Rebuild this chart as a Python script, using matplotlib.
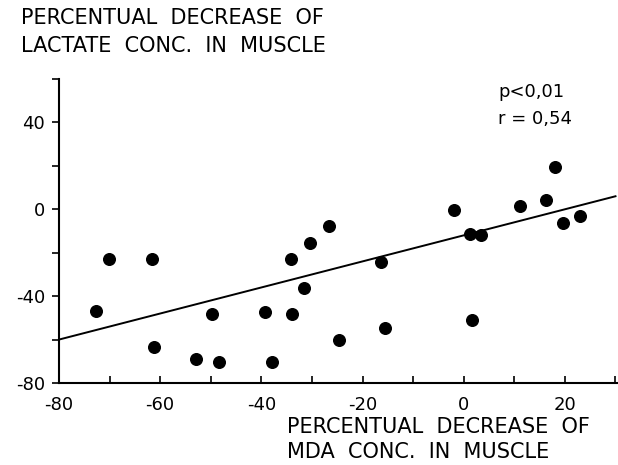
import numpy as np
import matplotlib
matplotlib.use("Agg")
import matplotlib.pyplot as plt

# ------------------------------------------------------------
# data
# ------------------------------------------------------------
mda_decrease = [-72.6, -70.1, -61.7, -61.3, -52.9, -49.7, -48.3, -39.2, -37.9,
                -34.2, -34.0, -31.5, -30.3, -26.6, -24.6, -16.4, -15.5, -1.9,
                1.3, 3.5, 1.7, 11.1, 16.3, 18.0, 19.7, 23.0]
lactate_decrease = [-46.9, -22.7, -22.7, -63.2, -68.8, -48.1, -70.4, -47.3, -70.2,
                    -22.7, -48.3, -36.4, -15.4, -7.5, -60.0, -24.4, -54.8, -0.3,
                    -11.5, -12.0, -50.8, 1.7, 4.5, 19.3, -6.4, -3.3]

fit_intercept = -12.0
fit_slope = 0.6
fit_range = [-80, 30]

x_ticks = list(range(-80, 31, 10))
x_labels = ["-80", "", "-60", "", "-40", "", "-20", "", "0", "", "20", ""]
y_ticks = list(range(-80, 61, 20))
y_labels = ["-80", "", "-40", "", "0", "", "40", ""]

stats_text = ["p<0,01", "r = 0,54"]
y_title = ["PERCENTUAL  DECREASE  OF", "LACTATE  CONC.  IN  MUSCLE"]
x_title = ["PERCENTUAL  DECREASE  OF", "MDA  CONC.  IN  MUSCLE"]

W, H = 618, 465
plt.rcParams["font.family"] = ["DejaVu Sans"]
plt.rcParams["axes.unicode_minus"] = False


def fx(px):
    return px / W


def fy(py):
    return 1 - py / H


fig = plt.figure(figsize=(W / 100, H / 100), dpi=100)
ax = fig.add_axes([fx(59), fy(383), fx(617) - fx(59), fy(79) - fy(383)])

ax.scatter(mda_decrease, lactate_decrease, s=70, color="black", zorder=3)

xs = np.array(fit_range, dtype=float)
ax.plot(xs, fit_intercept + fit_slope * xs, color="black", lw=1.4)

ax.set_xlim(-80, 30.3)
ax.set_ylim(-80, 60)
for side in ("top", "right"):
    ax.spines[side].set_visible(False)
for side in ("left", "bottom"):
    ax.spines[side].set_linewidth(1.5)

ax.set_xticks(x_ticks)
ax.set_xticklabels(x_labels)
ax.set_yticks(y_ticks)
ax.set_yticklabels(y_labels)
ax.tick_params(axis="x", direction="in", length=5, width=1.2, pad=9, labelsize=13)
ax.tick_params(axis="y", direction="out", length=5, width=1.2, pad=5, labelsize=13)

# titles placed as in the scan
fig.text(fx(21), fy(24), y_title[0], fontsize=15, va="baseline", ha="left")
fig.text(fx(21), fy(52), y_title[1], fontsize=15, va="baseline", ha="left")
fig.text(fx(287), fy(433), x_title[0], fontsize=15, va="baseline", ha="left")
fig.text(fx(287), fy(458), x_title[1], fontsize=15, va="baseline", ha="left")

fig.text(fx(498), fy(97), stats_text[0], fontsize=13, va="baseline", ha="left")
fig.text(fx(498), fy(124), stats_text[1], fontsize=13, va="baseline", ha="left")

fig.savefig("out.png", dpi=100)
